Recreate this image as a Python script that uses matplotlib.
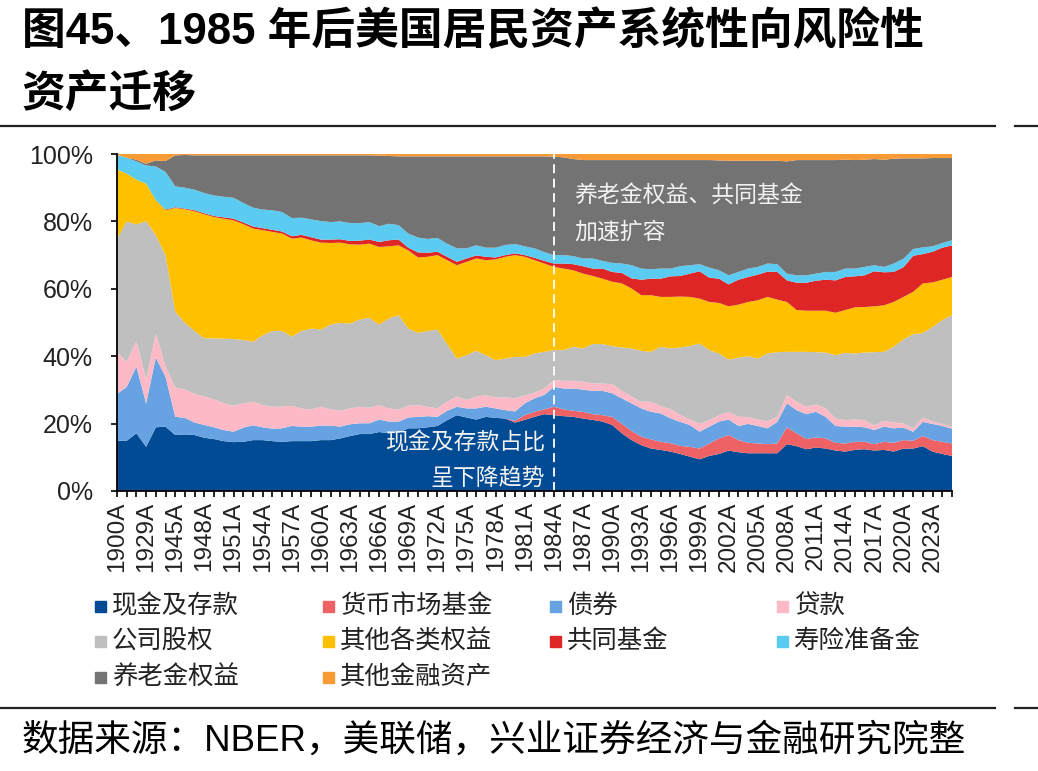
import matplotlib
matplotlib.use("Agg")
import matplotlib.pyplot as plt
from matplotlib.patches import Rectangle
from matplotlib.lines import Line2D
import numpy as np

plt.rcParams['font.family'] = ['Liberation Sans', 'Noto Sans CJK SC']

# categories: sparse pre-war years, then annual 1945-2025
years = ['1900', '1912', '1922', '1929', '1933', '1939'] + [str(y) for y in range(1945, 2026)]
labels = [y + 'A' for y in years]

names = ['现金及存款', '货币市场基金', '债券', '贷款', '公司股权',
         '其他各类权益', '共同基金', '寿险准备金', '养老金权益', '其他金融资产']
colors = ['#004B93', '#EE6165', '#67A2E2', '#FDBAC6', '#BFBFBF',
          '#FFC000', '#DE2626', '#5BCBF2', '#737373', '#F99B35']

# shares in %, one value per category
cash = [14.9, 14.9, 17.1, 13.1, 18.9, 19.1,
        16.6, 16.8, 16.6, 15.8, 15.4, 14.8, 14.5, 14.6, 15.1, 15.1,
        14.8, 14.6, 14.8, 14.8, 14.8, 15.1, 15.1, 15.6, 16.3, 16.9,
        16.9, 17.5, 17.1, 17.3, 18.6, 18.6, 18.9, 19.3, 21.0, 22.5,
        21.8, 21.2, 22.0, 21.7, 21.5, 20.3, 21.1, 22.0, 22.8, 22.5,
        22.2, 22.0, 21.5, 21.1, 20.6, 19.6, 17.1, 15.1, 13.6, 12.6,
        12.2, 11.7, 11.0, 10.2, 9.4, 10.4, 11.0, 12.0, 11.5, 11.2,
        11.2, 11.2, 11.2, 13.9, 13.3, 12.4, 12.9, 12.6, 12.0, 11.7,
        12.2, 12.4, 12.0, 12.2, 11.7, 12.6, 12.6, 13.3, 11.7, 11.0,
        10.4]
mmf = [0, 0, 0, 0, 0, 0,
       0, 0, 0, 0, 0, 0, 0, 0, 0, 0,
       0, 0, 0, 0, 0, 0, 0, 0, 0, 0,
       0, 0, 0, 0, 0, 0, 0, 0, 0, 0,
       0, 0, 0, 0, 0, 0.5, 1.4, 1.5, 1.4, 2.5,
       2.0, 1.8, 2.0, 1.7, 1.9, 2.4, 2.8, 2.7, 2.5, 2.7,
       2.4, 2.5, 2.4, 2.9, 3.2, 3.7, 4.6, 4.6, 3.6, 3.1,
       2.9, 2.7, 2.9, 5.0, 3.8, 3.0, 3.0, 3.0, 2.3, 2.4,
       2.4, 2.2, 1.9, 2.4, 2.6, 2.5, 2.3, 3.0, 3.4, 3.6,
       3.7]
bonds = [13.9, 16.0, 19.8, 12.9, 20.7, 14.8,
         5.4, 4.9, 3.7, 3.8, 3.5, 3.3, 3.1, 4.2, 4.4, 3.8,
         3.7, 4.0, 4.5, 4.3, 4.3, 4.3, 4.3, 3.5, 3.5, 3.2,
         3.2, 3.7, 3.5, 3.3, 3.2, 3.4, 3.3, 2.7, 2.8, 2.5,
         2.7, 3.3, 3.0, 2.8, 2.5, 2.8, 3.5, 4.0, 4.3, 5.9,
         6.2, 6.6, 6.6, 6.9, 7.2, 7.0, 7.6, 8.2, 8.4, 8.2,
         8.4, 7.4, 7.1, 6.5, 5.0, 5.0, 5.0, 4.6, 4.2, 5.6,
         5.2, 4.7, 6.4, 7.1, 6.9, 7.4, 7.6, 6.4, 5.0, 5.0,
         4.5, 4.3, 4.2, 4.5, 4.3, 3.7, 2.7, 4.2, 4.8, 4.7,
         4.4]
loans = [12.4, 7.4, 7.6, 7.1, 7.1, 3.0,
         8.7, 8.4, 8.5, 8.4, 8.3, 7.9, 7.7, 7.2, 7.0, 6.6,
         6.5, 6.4, 6.0, 5.4, 5.1, 5.6, 4.8, 4.7, 4.7, 4.9,
         4.6, 4.3, 3.9, 3.6, 3.5, 3.5, 2.8, 2.5, 2.7, 3.0,
         2.5, 3.5, 3.4, 3.3, 3.8, 3.9, 2.3, 1.7, 1.9, 2.0,
         2.3, 2.3, 2.3, 2.2, 2.2, 2.7, 2.2, 2.0, 2.0, 3.0,
         2.2, 2.7, 2.1, 1.6, 2.3, 1.9, 1.9, 2.3, 2.7, 2.1,
         1.9, 2.1, 1.5, 2.5, 2.5, 2.2, 2.2, 2.5, 2.2, 1.9,
         2.1, 2.1, 1.4, 1.7, 1.7, 1.3, 1.0, 1.3, 0.7, 0.6,
         0.6]
corp_equity = [33.7, 41.7, 34.6, 47.0, 29.2, 33.1,
               22.5, 19.8, 18.7, 17.3, 18.1, 19.2, 19.8, 18.8, 17.8, 20.7,
               22.5, 22.5, 20.5, 23.0, 24.0, 22.9, 25.2, 26.1, 25.2, 25.9,
               26.7, 23.9, 26.7, 28.0, 22.9, 21.4, 22.5, 23.4, 17.1, 11.3,
               13.3, 13.6, 11.9, 11.0, 11.5, 12.3, 11.5, 11.6, 10.9, 8.9,
               9.1, 10.1, 9.9, 11.7, 11.7, 11.3, 12.9, 14.3, 15.1, 14.8,
               17.6, 18.0, 20.0, 21.8, 23.9, 20.8, 18.3, 15.5, 17.6, 18.0,
               18.1, 20.1, 19.2, 12.8, 14.8, 16.3, 15.5, 16.6, 18.8, 20.0,
               19.6, 20.1, 21.7, 20.5, 22.5, 24.9, 27.9, 25.1, 28.1, 30.8,
               33.1]
other_equity = [20.5, 14.2, 13.3, 11.1, 10.4, 13.3,
                30.8, 33.7, 35.5, 36.8, 36.0, 35.6, 35.2, 34.4, 33.6, 31.2,
                29.4, 28.9, 29.1, 27.7, 26.2, 25.8, 24.2, 23.8, 23.5, 22.2,
                22.0, 23.0, 21.4, 20.7, 23.2, 22.4, 22.0, 22.1, 24.9, 27.7,
                27.7, 27.4, 28.2, 29.9, 30.2, 30.2, 29.7, 27.7, 26.2, 24.7,
                24.2, 22.7, 22.2, 20.2, 19.4, 19.1, 19.0, 17.8, 16.5, 16.8,
                14.8, 15.3, 15.1, 14.6, 13.3, 14.3, 15.0, 15.8, 15.7, 16.1,
                17.3, 16.8, 15.6, 14.8, 12.4, 12.2, 12.3, 12.4, 12.6, 12.7,
                13.7, 13.5, 13.6, 13.8, 13.3, 12.6, 12.6, 14.7, 13.2, 12.0,
                11.3]
mutual_funds = [0, 0, 0, 0, 0, 0.2,
                0.2, 0.2, 0.3, 0.3, 0.3, 0.4, 0.5, 0.5, 0.6, 0.6,
                0.6, 0.6, 0.7, 0.8, 0.9, 0.9, 1.0, 1.0, 1.0, 1.2,
                1.2, 1.5, 1.8, 1.7, 0.8, 1.5, 1.2, 1.0, 1.0, 1.0,
                1.0, 0.9, 1.0, 0.6, 0.5, 0.5, 0.5, 0.7, 0.8, 1.0,
                1.5, 1.8, 2.2, 2.2, 3.0, 2.9, 3.1, 3.0, 4.6, 4.9,
                5.4, 6.1, 6.1, 6.9, 8.1, 7.2, 7.2, 6.5, 7.4, 7.4,
                7.6, 7.5, 8.2, 6.4, 8.1, 8.3, 8.9, 9.2, 9.6, 9.8,
                9.2, 9.4, 10.4, 9.8, 8.9, 8.8, 10.7, 8.7, 9.1, 9.5,
                9.4]
life_reserves = [4.3, 4.7, 5.4, 5.4, 10.0, 11.2,
                 6.2, 6.2, 6.1, 6.0, 6.1, 6.1, 6.2, 5.8, 5.6, 5.5,
                 5.8, 5.8, 5.4, 5.1, 5.3, 5.5, 5.2, 5.3, 5.3, 5.2,
                 5.2, 4.7, 4.9, 4.3, 4.2, 4.4, 4.1, 4.1, 3.9, 4.0,
                 3.0, 3.0, 2.7, 2.9, 3.0, 2.8, 2.6, 2.8, 2.6, 2.5,
                 2.5, 2.4, 2.3, 3.0, 2.3, 2.7, 2.8, 3.9, 3.3, 2.8,
                 3.0, 2.3, 2.9, 2.5, 2.1, 3.0, 2.5, 2.7, 2.3, 2.5,
                 2.3, 2.4, 2.3, 2.0, 2.2, 2.2, 2.1, 2.3, 2.5, 2.5,
                 2.3, 2.5, 1.8, 1.6, 2.5, 2.5, 2.0, 2.0, 1.6, 1.4,
                 1.5]
pension = [0, 0, 0.5, 0.5, 1.8, 3.2,
           9.2, 9.7, 10.2, 11.2, 11.9, 12.3, 12.6, 14.1, 15.5, 16.1,
           16.3, 16.8, 18.6, 18.5, 19.0, 19.5, 19.8, 19.6, 20.1, 20.1,
           19.8, 20.9, 20.1, 20.4, 22.9, 24.1, 24.5, 24.2, 25.9, 27.3,
           27.3, 26.4, 27.1, 27.1, 26.3, 26.0, 26.7, 27.3, 28.4, 29.2,
           29.0, 28.8, 29.2, 29.2, 29.9, 30.5, 30.7, 31.2, 32.2, 32.4,
           32.2, 32.2, 31.5, 31.2, 30.9, 31.9, 32.6, 34.0, 33.0, 32.0,
           31.5, 30.5, 30.7, 33.3, 34.2, 34.2, 33.7, 33.2, 33.2, 32.3,
           32.2, 31.8, 31.5, 31.8, 31.1, 29.8, 26.9, 26.4, 26.2, 25.2,
           24.4]
other_fin = [0.3, 1.1, 1.7, 2.9, 1.9, 2.1,
             0.4, 0.3, 0.4, 0.4, 0.4, 0.4, 0.4, 0.4, 0.4, 0.4,
             0.4, 0.4, 0.4, 0.4, 0.4, 0.4, 0.4, 0.4, 0.4, 0.4,
             0.4, 0.5, 0.6, 0.7, 0.7, 0.7, 0.7, 0.7, 0.7, 0.7,
             0.7, 0.7, 0.7, 0.7, 0.7, 0.7, 0.7, 0.7, 0.7, 0.8,
             1.0, 1.5, 1.8, 1.8, 1.8, 1.8, 1.8, 1.8, 1.8, 1.8,
             1.8, 1.8, 1.8, 1.8, 1.8, 1.8, 1.9, 2.0, 2.0, 2.0,
             2.0, 2.0, 2.0, 2.2, 1.8, 1.8, 1.8, 1.8, 1.8, 1.7,
             1.8, 1.7, 1.5, 1.7, 1.4, 1.3, 1.3, 1.3, 1.2, 1.2,
             1.2]

series = [cash, mmf, bonds, loans, corp_equity, other_equity,
          mutual_funds, life_reserves, pension, other_fin]

W, H = 1038, 771
fig = plt.figure(figsize=(W / 100, H / 100), dpi=100)

def fx(px):
    return px / W

def fy(py):
    return 1 - py / H

ax = fig.add_axes([fx(117), fy(491), (952 - 117) / W, (491 - 154) / H])
x = np.arange(len(years))
ax.stackplot(x, *series, colors=colors, labels=names, linewidth=0)

ax.set_xlim(0, len(years) - 1)
ax.set_ylim(0, 100)
ax.set_yticks(np.arange(0, 101, 20))
ax.set_yticklabels([f'{v}%' for v in range(0, 101, 20)], fontsize=18, color='#222222')
ax.set_xticks(x)
ax.set_xticklabels([lab if i % 3 == 0 else '' for i, lab in enumerate(labels)],
                   rotation=90, fontsize=17.5, color='#222222')
ax.tick_params(axis='both', direction='out', length=4.5, width=1.2, color='black')
ax.tick_params(axis='x', pad=3)
ax.tick_params(axis='y', pad=13)
for side in ['top', 'right']:
    ax.spines[side].set_visible(False)
for side in ['left', 'bottom']:
    ax.spines[side].set_linewidth(1.3)
    ax.spines[side].set_color('black')

# 1985 split
ax.axvline(years.index('1984'), color='white', lw=1.3, ls=(0, (5, 3)))

ax.text(47.1, 87.5, '养老金权益、共同基金', color='#F2F2F2', fontsize=16.5, va='center', ha='left')
ax.text(47.1, 76.9, '加速扩容', color='#F2F2F2', fontsize=16.5, va='center', ha='left')
ax.text(44.1, 14.2, '现金及存款占比', color='#F2F2F2', fontsize=16.5, va='center', ha='right')
ax.text(44.1, 3.9, '呈下降趋势', color='#F2F2F2', fontsize=16.5, va='center', ha='right')

# legend laid out in fixed columns, row by row
col_x = [95, 323, 550, 777]
row_y = [606, 641, 677]
for k, (name, c) in enumerate(zip(names, colors)):
    r, ci = divmod(k, 4)
    x0, y0 = col_x[ci], row_y[r]
    fig.patches.append(Rectangle((fx(x0), fy(y0 + 5.5)), 11 / W, 11 / H,
                                 transform=fig.transFigure, color=c))
    fig.text(fx(x0 + 17), fy(y0), name, fontsize=18.3, va='center', ha='left',
             color='#222222')

# title and source
fig.text(fx(22), fy(32), '图45、1985 年后美国居民资产系统性向风险性',
         fontsize=31.5, fontweight='bold', va='center', ha='left')
fig.text(fx(22), fy(95), '资产迁移', fontsize=31.5, fontweight='bold', va='center', ha='left')
fig.text(fx(22), fy(741), '数据来源：NBER，美联储，兴业证券经济与金融研究院整',
         fontsize=26.4, va='center', ha='left')

for yy in (126, 708):
    fig.add_artist(Line2D([0, fx(995)], [fy(yy), fy(yy)], transform=fig.transFigure,
                          color='#222222', lw=1.6))
    fig.add_artist(Line2D([fx(1015), 1], [fy(yy), fy(yy)], transform=fig.transFigure,
                          color='#222222', lw=1.6))

fig.savefig('out.png', dpi=100)
